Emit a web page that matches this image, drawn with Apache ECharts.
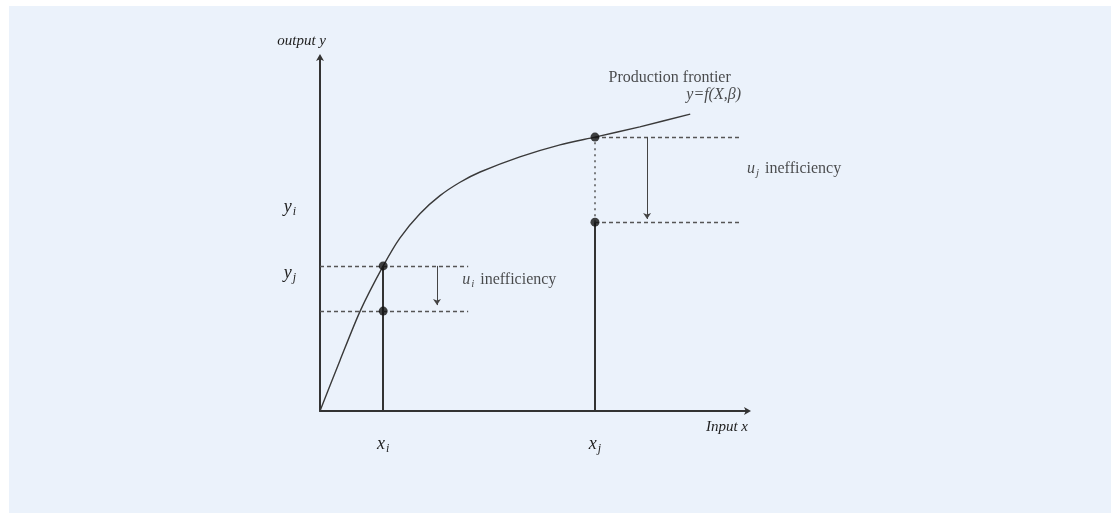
<!DOCTYPE html>
<html>
<head>
<meta charset="utf-8">
<script src="https://cdn.jsdelivr.net/npm/echarts@6/dist/echarts.min.js"></script>
<style>html,body{margin:0;padding:0;background:#fff}#c{width:1111px;height:513px}</style>
</head>
<body>
<div id="c"></div>
<script>
// ---- data ----
const frontierX = [0, 0.47, 0.94, 1.48, 1.87, 2.34, 2.81, 3.28, 3.75, 4.68, 5.62, 6.44, 7.49, 8.67];
const frontierY = [0, 1.44, 2.83, 4.11, 4.90, 5.59, 6.10, 6.48, 6.77, 7.20, 7.54, 7.76, 8.05, 8.41];
const firmX = [1.48, 6.44];            // x_i, x_j
const firmFrontierY = [4.11, 7.76];     // frontier output at x_i, x_j
const firmObservedY = [2.83, 5.35];     // observed output
const dashEndX = [3.47, 9.84];          // right ends of dashed guides
const arrowX = [2.74, 7.66];            // inefficiency arrows
const arrowEndY = [3.0, 5.44];
const xTickLabels = ['i', 'j'];
const yTickValues = [5.78, 3.91];
const yTickLabels = ['i', 'j'];
const textLabels = [
  {x: 9.62, y: 9.45, text: 'Production frontier', align: 'right'},
  {x: 9.86, y: 8.95, text: '{it|y=f(X,β)}', align: 'right'},
  {x: 10.0, y: 6.86, text: '{it|u}{sub|j} inefficiency', align: 'left'},
  {x: 3.33, y: 3.71, text: '{it|u}{sub|i} inefficiency', align: 'left'}
];

const serif = 'Liberation Serif';
const ink = '#1e1e1e';

const richStyles = {
  it: {fontFamily: serif, fontStyle: 'italic', fontSize: 16, color: ink},
  sub: {fontFamily: serif, fontStyle: 'italic', fontSize: 11, color: ink, padding: [9, 2, 0, 1]},
  tk: {fontFamily: serif, fontStyle: 'italic', fontSize: 18, color: ink},
  tsub: {fontFamily: serif, fontStyle: 'italic', fontSize: 12, color: ink, padding: [10, 0, 0, 1]}
};

const solidSegs = [], dottedSegs = [], dashedSegs = [], arrowSegs = [], dots = [];
for (let k = 0; k < firmX.length; k++) {
  solidSegs.push({coords: [[firmX[k], 0], [firmX[k], k === 0 ? firmFrontierY[k] : firmObservedY[k]]]});
  if (k === 1) dottedSegs.push({coords: [[firmX[k], firmObservedY[k]], [firmX[k], firmFrontierY[k]]]});
  const startX = k === 0 ? 0 : firmX[k];
  dashedSegs.push({coords: [[startX, firmFrontierY[k]], [dashEndX[k], firmFrontierY[k]]]});
  dashedSegs.push({coords: [[startX, firmObservedY[k]], [dashEndX[k], firmObservedY[k]]]});
  arrowSegs.push({coords: [[arrowX[k], firmFrontierY[k]], [arrowX[k], arrowEndY[k]]]});
  dots.push([firmX[k], firmFrontierY[k]]);
  dots.push([firmX[k], firmObservedY[k]]);
}

const chart = echarts.init(document.getElementById('c'), null, {renderer: 'canvas'});
chart.setOption({
  backgroundColor: '#ffffff',
  animation: false,
  graphic: [{type: 'rect', left: 9, top: 6, shape: {width: 1102, height: 507}, style: {fill: '#ebf2fb'}, z: -10}],
  grid: {left: 320, right: 364, top: 58, bottom: 102, containLabel: false},
  xAxis: {
    type: 'value', min: 0, max: 10,
    name: 'Input x', nameLocation: 'end', nameGap: 1,
    nameTextStyle: {fontFamily: serif, fontStyle: 'italic', fontSize: 15, color: ink, align: 'right', verticalAlign: 'top', padding: [9, 0, 0, 0]},
    axisLine: {lineStyle: {color: '#333', width: 2}, symbol: ['none', 'arrow'], symbolSize: [6, 7], symbolOffset: [0, 4]},
    axisTick: {show: false},
    splitLine: {show: false},
    axisLabel: {
      customValues: firmX, margin: 22,
      formatter: function (v) { const k = firmX.indexOf(v); return '{tk|x}{tsub|' + xTickLabels[k] + '}'; },
      rich: richStyles
    }
  },
  yAxis: {
    type: 'value', min: 0, max: 10,
    name: 'output y', nameLocation: 'end', nameGap: 9,
    nameTextStyle: {fontFamily: serif, fontStyle: 'italic', fontSize: 15, color: ink, align: 'right', padding: [0, -6, 0, 0]},
    axisLine: {lineStyle: {color: '#333', width: 2}, symbol: ['none', 'arrow'], symbolSize: [6, 7], symbolOffset: [0, 4]},
    axisTick: {show: false},
    splitLine: {show: false},
    axisLabel: {
      customValues: yTickValues, margin: 24,
      formatter: function (v) { const k = yTickValues.indexOf(v); return '{tk|y}{tsub|' + yTickLabels[k] + '}'; },
      rich: richStyles
    }
  },
  series: [
    {type: 'line', data: frontierX.map((x, k) => [x, frontierY[k]]), smooth: 0.25, symbol: 'none',
     lineStyle: {color: '#3a3a3a', width: 1.4}, z: 3},
    {type: 'lines', coordinateSystem: 'cartesian2d', data: solidSegs, lineStyle: {color: '#333', width: 2, opacity: 1}, z: 2},
    {type: 'lines', coordinateSystem: 'cartesian2d', data: dottedSegs, lineStyle: {color: '#555', width: 1.5, type: [2, 4], opacity: 1}, z: 2},
    {type: 'lines', coordinateSystem: 'cartesian2d', data: dashedSegs, lineStyle: {color: '#555', width: 1.3, type: [4, 3], opacity: 1}, z: 2},
    {type: 'lines', coordinateSystem: 'cartesian2d', data: arrowSegs, symbol: ['none', 'arrow'], symbolSize: 6,
     lineStyle: {color: '#444', width: 1, opacity: 1}, z: 2},
    {type: 'scatter', data: dots, symbolSize: 9, itemStyle: {color: '#111'}, z: 5},
    {type: 'scatter', symbolSize: 0, silent: true, z: 6,
     data: textLabels.map(t => ({value: [t.x, t.y], label: {align: t.align}})),
     label: {show: true, position: [0, 0], verticalAlign: 'middle', fontFamily: serif, fontSize: 16, color: ink,
       textBorderWidth: 0, rich: richStyles,
       formatter: function (p) { return textLabels[p.dataIndex].text; }}}
  ]
});
</script>
</body>
</html>
